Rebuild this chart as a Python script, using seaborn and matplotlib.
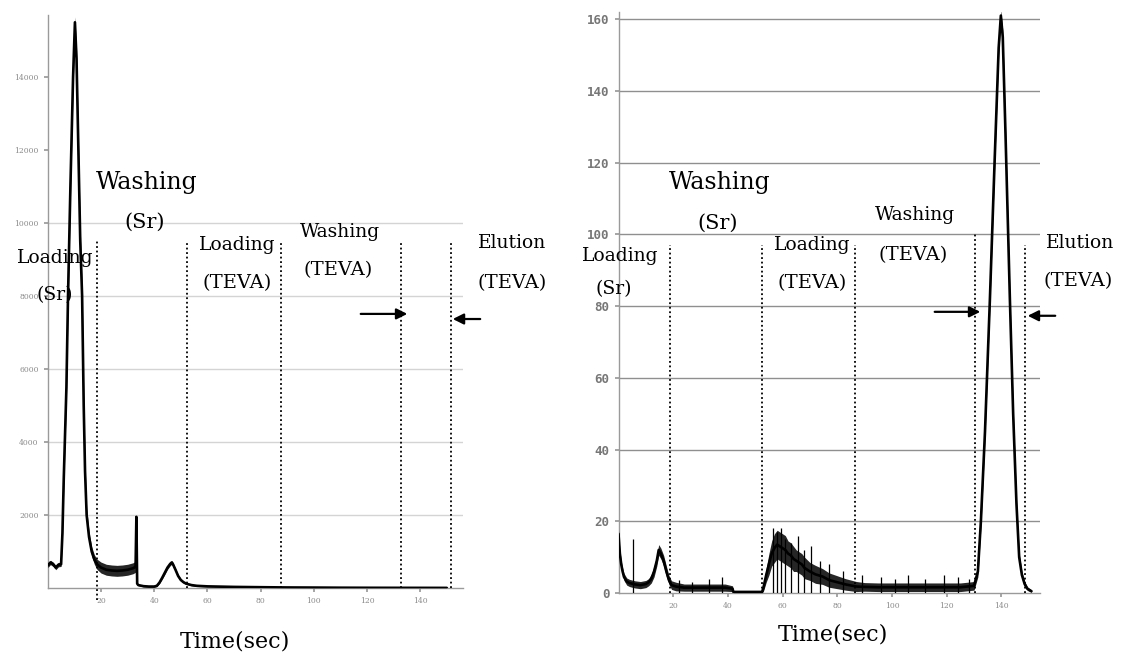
import numpy as np
import pandas as pd
import matplotlib
matplotlib.use("Agg")
import matplotlib.pyplot as plt
import seaborn as sns

# ---------------- data ----------------
# Left panel: Sr signal (counts) vs time (sec)
left_t = [0, 1, 2, 3, 4, 5, 5.5, 6, 7, 7.6, 8.5, 9.5, 10.2, 10.8, 11.5, 12.2, 12.9, 13.5, 14, 14.6,
          15.5, 16.5, 17.5, 18.5, 20, 22, 24, 26, 28, 30, 32, 33, 33.3, 33.6, 34, 36, 38, 40, 41,
          42, 43, 44, 45, 46, 46.6, 47, 48, 49, 50, 51, 52, 53, 54, 56, 60, 70, 80,
          90, 100, 110, 120, 130, 140, 150]
left_v = [620, 700, 650, 560, 640, 650, 1500, 3000, 5500, 8000, 11000, 14000, 15500, 14500, 12000, 9500, 8000, 5000, 3200, 2000,
          1400, 1000, 780, 650, 560, 500, 480, 470, 480, 500, 540, 580, 1950, 120, 80, 50, 40, 40, 60,
          150, 280, 420, 560, 660, 700, 660, 500, 330, 220, 160, 120, 100, 80, 60, 45, 30, 22,
          15, 12, 8, 6, 5, 4, 3]
left_amp = [60, 60, 60, 60, 60, 60, 150, 250, 300, 350, 350, 300, 150, 300, 350, 350, 350, 300, 250, 200,
            150, 130, 130, 140, 150, 150, 150, 150, 150, 150, 150, 150, 0, 20, 20, 20, 20, 20, 20,
            30, 40, 50, 50, 50, 50, 50, 40, 40, 30, 30, 20, 20, 20, 20, 15, 15, 10,
            10, 10, 5, 5, 5, 5, 5]

# Right panel: Sr signal vs time (sec)
right_t = [0, 0.5, 1, 1.5, 2, 3, 4, 5, 6, 8, 10, 11, 12, 13, 14, 14.7, 15.5, 16.5,
           17.5, 18.5, 19.4, 21, 24, 27, 30, 33, 36, 39, 41.7, 42, 44, 46, 48, 50, 52.5, 53,
           54, 55, 56, 57, 58, 59, 60, 61, 62, 63, 64, 65, 66, 67, 68, 70, 72, 74.6, 77,
           80, 83, 87, 90, 95, 100, 105, 110, 115, 120, 125, 130, 131.4, 132.5, 134, 135.8,
           137.5, 139, 139.8, 140.5, 141.5, 142.3, 143.1, 144.3, 145.5, 146.5, 147.5, 148.5,
           149.5, 151]
right_v = [16.5, 11, 8, 6, 4.5, 3.2, 2.8, 2.6, 2.4, 2.2, 2.5, 3, 4, 6, 9, 12, 11, 9,
           6, 3.5, 2.2, 1.8, 1.5, 1.5, 1.5, 1.5, 1.5, 1.5, 1.2, 0.3, 0.3, 0.3, 0.3, 0.3, 0.3, 1.5,
           5, 8, 11, 12.5, 13.5, 13, 12.5, 12, 11, 10.5, 9.5, 9, 8.5, 8, 7, 6, 5.2, 4.6, 3.6,
           3, 2.4, 1.8, 1.7, 1.6, 1.6, 1.6, 1.6, 1.6, 1.6, 1.6, 2, 6, 20, 45, 82,
           120, 152, 161, 155, 128, 105, 82, 50, 25, 10, 5, 2.5,
           1.2, 0.5]
right_amp = [1, 1, 1, 1, 1, 1, 1, 1, 1, 1, 1, 1, 1.2, 1.5, 1.5, 1.5, 1.5, 1.5,
             1.5, 1.2, 1.2, 1.2, 1, 1, 1, 1, 1, 1, 0.8, 0.2, 0.2, 0.2, 0.2, 0.2, 0.2, 1,
             2, 3, 3.5, 4, 4, 4, 4, 4, 3.5, 3.5, 3.5, 3, 3, 3, 3, 2.5, 2.5, 2.2, 2,
             1.8, 1.6, 1.4, 1.2, 1.2, 1.2, 1.2, 1.2, 1.2, 1.2, 1.2, 1.2, 1.5, 1.8, 2, 2,
             2, 2, 1.5, 2, 2, 2, 2, 2, 1.5, 1.2, 1, 0.8,
             0.5, 0.3]
# isolated noise spikes visible in the right trace (time, height)
right_spike_t = [5.2, 22, 27, 33, 38, 56.5, 58, 59.5, 61, 63, 65.5, 68, 70.5, 73.5, 77, 82,
                 89, 96, 101, 106, 112, 119, 124, 128]
right_spike_v = [15, 3.5, 3, 4, 4.5, 18, 17, 18, 15, 14, 16, 12, 13, 9, 8, 6,
                 5, 4.5, 4, 5, 4, 5, 4.5, 4]

left_yticks = [2000, 4000, 6000, 8000, 10000, 12000, 14000]
left_grid = [2000, 4000, 6000, 8000, 10000]
right_yticks = [0, 20, 40, 60, 80, 100, 120, 140, 160]
x_ticks = [20, 40, 60, 80, 100, 120, 140]

left_phase_x = [18.5, 52.3, 87.7, 132.8, 151.6]
right_phase_x = [18.7, 52.3, 86.3, 130.2, 148.5]

xlabel = "Time(sec)"

# ---------------- styling ----------------
sns.set_theme(style="white")
plt.rcParams["font.family"] = ["DejaVu Serif", "DejaVu Sans"]

W, H = 1123, 657
fig = plt.figure(figsize=(W / 100, H / 100), dpi=100)

def frac(x0, y_bottom, x1, y_top):
    return [x0 / W, 1 - y_bottom / H, (x1 - x0) / W, (y_bottom - y_top) / H]

axL = fig.add_axes(frac(47.8, 588, 47.8 + 156 * 2.66, 15))
axR = fig.add_axes(frac(618.5, 593, 618.5 + 154 * 2.735, 12))

dfL = pd.DataFrame({"t": left_t, "v": left_v, "amp": left_amp})
dfR = pd.DataFrame({"t": right_t, "v": right_v, "amp": right_amp})

for ax, df in ((axL, dfL), (axR, dfR)):
    ax.fill_between(df["t"], df["v"] - df["amp"], df["v"] + df["amp"],
                    color="black", lw=0, alpha=0.85, zorder=3)
    sns.lineplot(data=df, x="t", y="v", ax=ax, color="black", lw=1.9,
                 estimator=None, sort=False, zorder=4)

axR.vlines(right_spike_t, 0, right_spike_v, colors="black", lw=0.9, zorder=4)

# axes ranges, ticks
axL.set_xlim(0, 156)
axL.set_ylim(0, 15700)
axR.set_xlim(0, 154)
axR.set_ylim(0, 162)

for ax in (axL, axR):
    ax.set_xticks(x_ticks)
    ax.set_xticklabels([str(v) for v in x_ticks])
    ax.set_ylabel("")
    for s in ("top", "right"):
        ax.spines[s].set_visible(False)
    for s in ("left", "bottom"):
        ax.spines[s].set_color("#9a9a9a")
        ax.spines[s].set_linewidth(1.0)
    ax.tick_params(axis="both", which="both", length=3, color="#9a9a9a",
                   direction="out", bottom=True, left=True)
    ax.grid(False)

axL.set_xlabel(xlabel, fontsize=16, labelpad=18, color="black")
axR.set_xlabel(xlabel, fontsize=16, labelpad=10, color="black")

axL.set_yticks(left_yticks)
axL.set_yticklabels([str(v) for v in left_yticks])
axL.tick_params(axis="both", labelsize=5.5, labelcolor="#8a8a8a")
for g in left_grid:
    axL.axhline(g, color="#d4d4d4", lw=1.0, zorder=1)

axR.set_yticks(right_yticks)
axR.set_yticklabels([str(v) for v in right_yticks])
axR.tick_params(axis="y", labelsize=9, labelcolor="#777777")
axR.tick_params(axis="x", labelsize=5.5, labelcolor="#8a8a8a")
for g in right_yticks[1:]:
    axR.axhline(g, color="#8f8f8f", lw=1.0, zorder=1)
for lbl in axR.get_yticklabels():
    lbl.set_fontfamily("DejaVu Sans Mono")
    lbl.set_fontweight("bold")

axL.xaxis.label.set_position((0.45, 0))
axR.xaxis.label.set_position((0.51, 0))

# phase boundaries (dotted)
for i, x in enumerate(left_phase_x):
    bottom = -330 if i == 0 else 0
    axL.vlines(x, bottom, 9500, colors="black", linestyles=(0, (1, 1.5)), lw=1.3,
               zorder=5, clip_on=False)
for i, x in enumerate(right_phase_x):
    top = 100 if i == 3 else 97
    axR.vlines(x, 0, top, colors="black", linestyles=(0, (1, 1.5)), lw=1.3,
               zorder=5, clip_on=False)

# phase labels
def label(ax, x, y, s, size):
    ax.text(x, y, s, ha="center", va="center", fontsize=size, color="black",
            clip_on=False, zorder=6)

label(axL, 37.3, 11100, "Washing", 17)
label(axL, 36.5, 10030, "(Sr)", 15)
label(axL, 2.7, 9040, "Loading", 13.5)
label(axL, 2.7, 8030, "(Sr)", 13.5)
label(axL, 71.1, 9400, "Loading", 13.5)
label(axL, 71.1, 8360, "(TEVA)", 14)
label(axL, 109.9, 9750, "Washing", 13.5)
label(axL, 109.1, 8710, "(TEVA)", 14)
label(axL, 174.5, 9450, "Elution", 13.5)
label(axL, 174.5, 8360, "(TEVA)", 14)

label(axR, 37.1, 114.4, "Washing", 17)
label(axR, 36.4, 103.2, "(Sr)", 15)
label(axR, 0.5, 94.0, "Loading", 13.5)
label(axR, -1.6, 84.8, "(Sr)", 13.5)
label(axR, 70.7, 97.1, "Loading", 13.5)
label(axR, 70.7, 86.5, "(TEVA)", 14)
label(axR, 108.4, 105.4, "Washing", 13.5)
label(axR, 107.7, 94.3, "(TEVA)", 14)
label(axR, 168.7, 97.6, "Elution", 13.5)
label(axR, 168.0, 87.0, "(TEVA)", 14)

# arrows
arrow_kw = dict(arrowstyle="-|>", color="black", lw=1.6, mutation_scale=16)
axL.annotate("", xy=(136.2, 7510), xytext=(116.6, 7510), arrowprops=arrow_kw,
             annotation_clip=False)
axL.annotate("", xy=(151.2, 7370), xytext=(163.6, 7370), arrowprops=arrow_kw,
             annotation_clip=False)
axR.annotate("", xy=(133.3, 78.4), xytext=(114.6, 78.4), arrowprops=arrow_kw,
             annotation_clip=False)
axR.annotate("", xy=(148.6, 77.3), xytext=(160.7, 77.3), arrowprops=arrow_kw,
             annotation_clip=False)

fig.savefig("out.png", dpi=100, facecolor="white")
